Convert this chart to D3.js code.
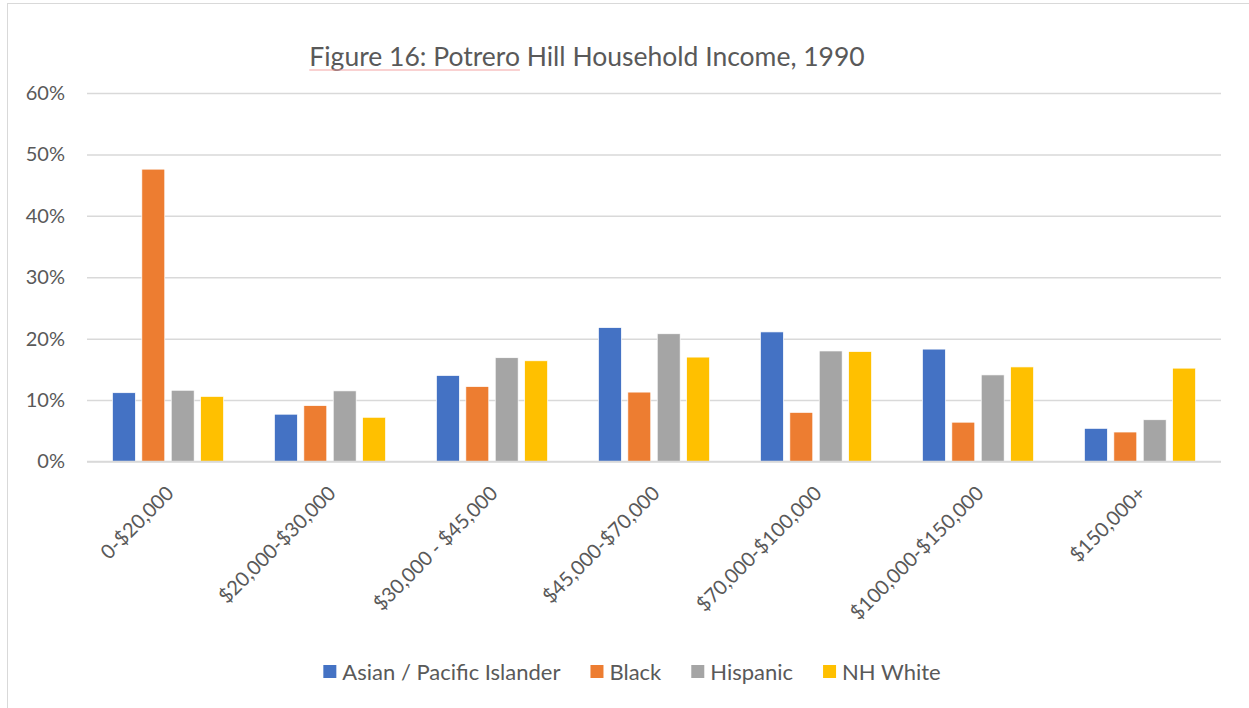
<!DOCTYPE html>
<html>
<head>
<meta charset="utf-8">
<title>Figure 16: Potrero Hill Household Income, 1990</title>
<script src="https://d3js.org/d3.v7.min.js"></script>
<style>
  body { margin: 0; background: #fff; }
  svg text { font-family: Lato, "Open Sans", sans-serif; fill: #595959; }
</style>
</head>
<body>
<div id="chart"></div>
<script>
// income brackets (x categories)
const incomeBands = ["0-$20,000", "$20,000-$30,000", "$30,000 - $45,000", "$45,000-$70,000",
  "$70,000-$100,000", "$100,000-$150,000", "$150,000+"];

// share of households, percent
const asianPacific = [11.2, 7.7, 14.0, 21.8, 21.1, 18.3, 5.4];
const black        = [47.6, 9.1, 12.2, 11.3, 8.0, 6.4, 4.8];
const hispanic     = [11.6, 11.5, 16.9, 20.8, 18.0, 14.1, 6.8];
const nhWhite      = [10.6, 7.2, 16.4, 17.0, 17.9, 15.4, 15.2];

const seriesNames = ["Asian / Pacific Islander", "Black", "Hispanic", "NH White"];
const seriesColors = ["#4472c4", "#ed7d31", "#a5a5a5", "#ffc000"];
const yTicks = [0, 10, 20, 30, 40, 50, 60];

const W = 1249, H = 708;
const plot = { left: 87, right: 1221, top: 93, bottom: 461.5 };

const svg = d3.select("#chart").append("svg")
  .attr("width", W).attr("height", H);

// chart area outline
svg.append("rect")
  .attr("x", 7.5).attr("y", 3.5)
  .attr("width", 1300).attr("height", 800)
  .attr("fill", "none").attr("stroke", "#d9d9d9").attr("stroke-width", 1);

const x0 = d3.scaleBand().domain(incomeBands)
  .range([plot.left, plot.right]).paddingInner(0.274).paddingOuter(0.137);
const x1 = d3.scaleBand().domain(seriesNames)
  .range([0, x0.bandwidth()]).paddingInner(0.22).paddingOuter(0.11);
const y = d3.scaleLinear().domain([0, 60]).range([plot.bottom, plot.top]);
const color = d3.scaleOrdinal().domain(seriesNames).range(seriesColors);

// gridlines + y labels
const yAxis = svg.append("g")
  .attr("transform", `translate(${plot.left},0)`)
  .call(d3.axisLeft(y).tickValues(yTicks).tickFormat(d => d + "%")
    .tickSize(-(plot.right - plot.left)).tickPadding(22));
yAxis.select(".domain").remove();
yAxis.selectAll("line").attr("stroke", "#d9d9d9").attr("stroke-width", 1.5);
yAxis.selectAll("text").style("font-size", "20px").style("fill", "#595959");

// bars
const rows = incomeBands.map((band, i) => ({
  band,
  values: [asianPacific[i], black[i], hispanic[i], nhWhite[i]]
    .map((v, j) => ({ name: seriesNames[j], value: v }))
}));

svg.append("g").selectAll("g")
  .data(rows).join("g")
  .attr("transform", d => `translate(${x0(d.band)},0)`)
  .selectAll("rect")
  .data(d => d.values).join("rect")
  .attr("x", d => x1(d.name))
  .attr("y", d => y(d.value))
  .attr("width", x1.bandwidth())
  .attr("height", d => y(0) - y(d.value))
  .attr("fill", d => color(d.name))
  .attr("stroke", "#fff").attr("stroke-width", 0.7);

// baseline
svg.append("line")
  .attr("x1", plot.left).attr("x2", plot.right)
  .attr("y1", y(0)).attr("y2", y(0))
  .attr("stroke", "#d9d9d9").attr("stroke-width", 1.5);

// x labels, rotated
const xAxis = svg.append("g")
  .attr("transform", `translate(0,${plot.bottom})`)
  .call(d3.axisBottom(x0).tickSize(0).tickPadding(0));
xAxis.select(".domain").remove();
xAxis.selectAll("text")
  .style("font-size", "20px").style("fill", "#595959")
  .attr("text-anchor", "end")
  .attr("dy", null).attr("y", 0)
  .attr("transform", "translate(7,33) rotate(-45)");

// title
const title = svg.append("text")
  .attr("x", 587).attr("y", 66)
  .attr("text-anchor", "middle")
  .style("font-size", "26.5px")
  .text("Figure 16: Potrero Hill Household Income, 1990");
const tb = title.node().getBBox();
const underlineLen = title.node().getSubStringLength(0, 18);
svg.append("line")
  .attr("x1", tb.x).attr("x2", tb.x + underlineLen)
  .attr("y1", 70).attr("y2", 70)
  .attr("stroke", "#f4a3a3").attr("stroke-width", 1.2);

// legend
const legend = svg.append("g");
let lx = 0;
seriesNames.forEach((name, i) => {
  const g = legend.append("g").attr("transform", `translate(${lx},0)`);
  g.append("rect").attr("x", 0).attr("y", -7).attr("width", 13).attr("height", 13)
    .attr("fill", seriesColors[i]);
  const t = g.append("text").attr("x", 19).attr("y", 0).attr("dy", "0.35em")
    .style("font-size", "22px").text(name);
  lx += 19 + t.node().getComputedTextLength() + 30;
});
const legendWidth = lx - 30;
legend.attr("transform", `translate(${632 - legendWidth / 2},672)`);
</script>
</body>
</html>
